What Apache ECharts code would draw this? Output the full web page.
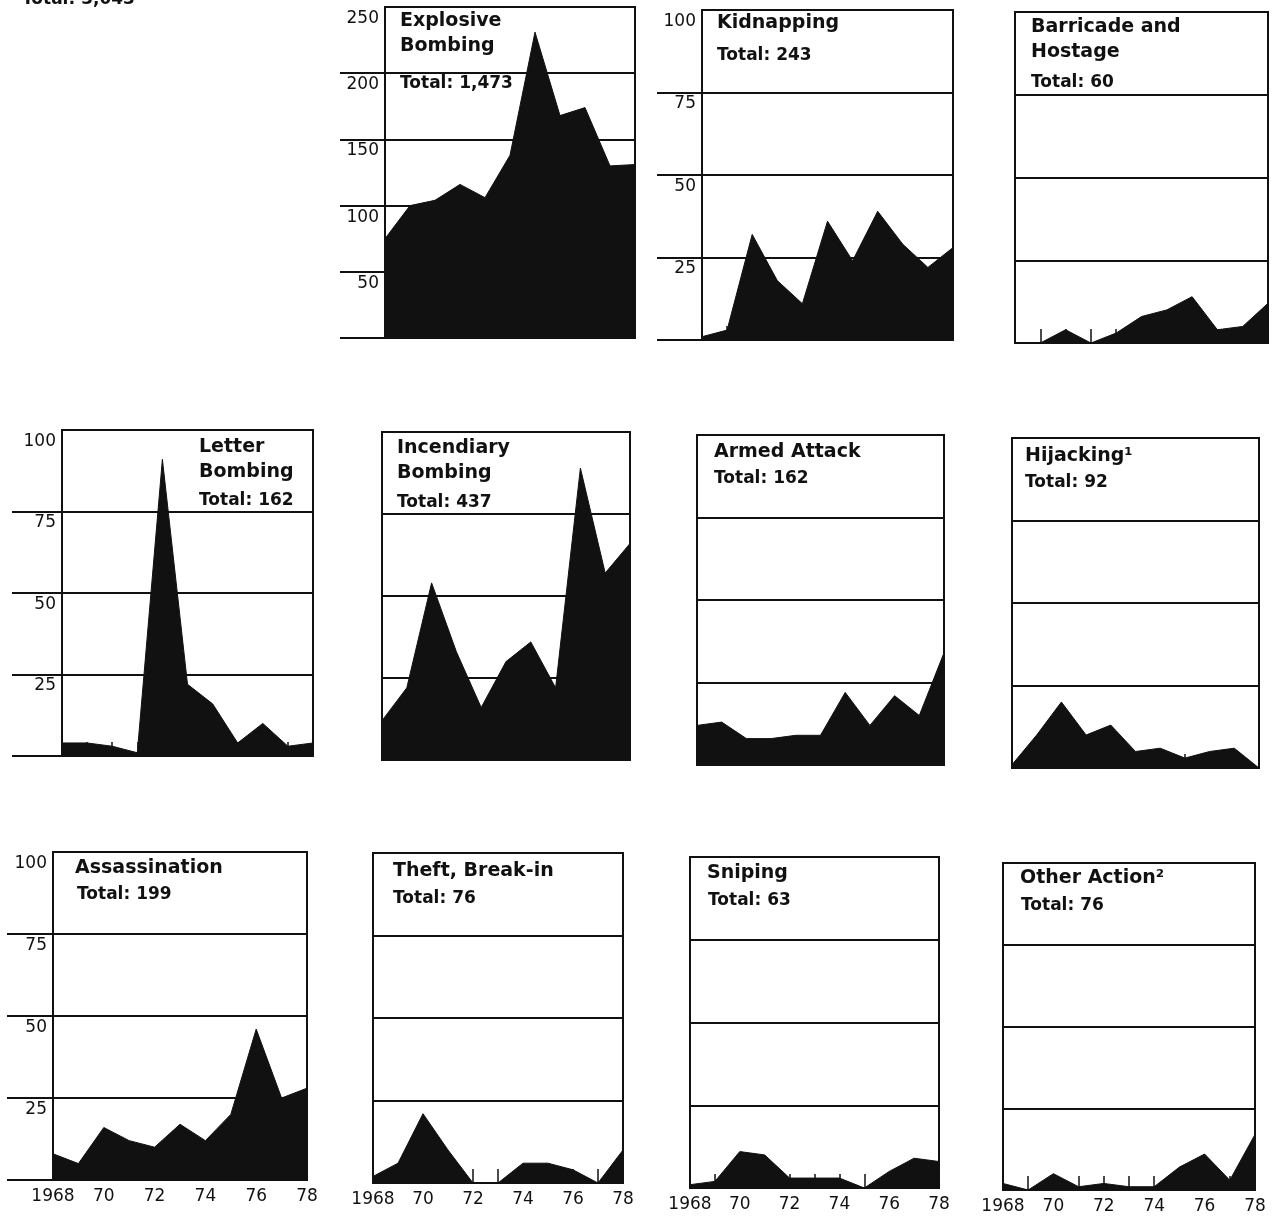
<!DOCTYPE html>
<html>
<head>
<meta charset="utf-8">
<script src="https://cdn.jsdelivr.net/npm/echarts@6/dist/echarts.min.js"></script>
<style>
html,body{margin:0;padding:0;background:#fff;}
#c{width:1280px;height:1216px;}
</style>
</head>
<body>
<div id="c"></div>
<script>
// ---- data ----
const years = ['1968','1969','1970','1971','1972','1973','1974','1975','1976','1977','1978'];
const explosiveBombing  = [75,100,104,116,106,138,231,168,174,130,131];
const kidnapping        = [1,3,32,18,11,36,24,39,29,22,28];
const barricadeHostage  = [0,0,4,0,3,8,10,14,4,5,12];
const letterBombing     = [4,4,3,1,91,22,16,4,10,3,4];
const incendiaryBombing = [12,22,54,33,16,30,36,22,89,57,66];
const armedAttack       = [12,13,8,8,9,9,22,12,21,15,34];
const hijacking         = [1,10,20,10,13,5,6,3,5,6,0];
const assassination     = [8,5,16,12,10,17,12,20,46,25,28];
const theftBreakIn      = [2,6,21,10,0,0,6,6,4,0,10];
const sniping           = [1,2,11,10,3,3,3,0,5,9,8];
const otherAction       = [2,0,5,1,2,1,1,7,11,3,17];

const panelNames  = ['Explosive\nBombing','Kidnapping','Barricade and\nHostage','Letter\nBombing','Incendiary\nBombing','Armed Attack','Hijacking\u00b9','Assassination','Theft, Break-in','Sniping','Other Action\u00b2'];
const panelTotals = ['Total: 1,473','Total: 243','Total: 60','Total: 162','Total: 437','Total: 162','Total: 92','Total: 199','Total: 76','Total: 63','Total: 76'];
const grandTotal  = 'Total: 3,043';
const seriesData  = [explosiveBombing,kidnapping,barricadeHostage,letterBombing,incendiaryBombing,armedAttack,hijacking,assassination,theftBreakIn,sniping,otherAction];
const axisMax  = [250,100,100,100,100,100,100,100,100,100,100];
const axisStep = [50,25,25,25,25,25,25,25,25,25,25];

// ---- layout (pixel boxes; styles only) ----
const layout = [
  {box:[385,7,635,338],   ext:340, yl:true,  xl:false, t:[400,21,400,84]},
  {box:[702,10,953,340],  ext:657, yl:true,  xl:false, t:[717,23,717,56]},
  {box:[1015,12,1268,343],ext:null,yl:false, xl:false, t:[1031,27,1031,83]},
  {box:[62,430,313,756],  ext:12,  yl:true,  xl:false, t:[199,447,199,501]},
  {box:[382,432,630,760], ext:null,yl:false, xl:false, t:[397,448,397,503]},
  {box:[697,435,944,765], ext:null,yl:false, xl:false, t:[714,452,714,479]},
  {box:[1012,438,1259,768],ext:null,yl:false,xl:false, t:[1025,456,1025,483]},
  {box:[53,852,307,1180], ext:7,   yl:true,  xl:true,  t:[75,868,77,895]},
  {box:[373,853,623,1183],ext:null,yl:false, xl:true,  t:[393,871,393,899]},
  {box:[690,857,939,1188],ext:null,yl:false, xl:true,  t:[707,873,708,901]},
  {box:[1003,863,1255,1190],ext:null,yl:false,xl:true, t:[1020,878,1021,906]}
];

const FONT = 'DejaVu Sans';
const INK = '#111';
const grids = [], xAxes = [], yAxes = [], series = [], titles = [];

titles.push({left:22, top:-10, padding:0, text:grandTotal,
  textStyle:{fontFamily:FONT, fontWeight:'bold', fontSize:17, lineHeight:20, color:INK}});

layout.forEach((p, i) => {
  const [l, t, r, b] = p.box;
  const max = axisMax[i], step = axisStep[i];
  if (p.ext != null) {
    const gi = grids.length;
    grids.push({left:p.ext, top:t, width:l - p.ext, height:b - t, show:false, containLabel:false, outerBoundsMode:'none'});
    xAxes.push({gridIndex:gi, type:'value', show:false});
    const cols = [];
    for (let v = 0; v <= max; v += step) cols.push(v === max ? 'rgba(0,0,0,0)' : INK);
    yAxes.push({gridIndex:gi, type:'value', min:0, max:max, interval:step,
      axisLine:{show:false}, axisTick:{show:false}, axisLabel:{show:false},
      splitLine:{show:true, lineStyle:{color:cols, width:2}}});
  }
  const gi = grids.length;
  grids.push({left:l, top:t, width:r - l, height:b - t, show:true, borderColor:INK, borderWidth:2,
    backgroundColor:'rgba(0,0,0,0)', containLabel:false, outerBoundsMode:'none'});
  xAxes.push({gridIndex:gi, type:'category', data:years, boundaryGap:false,
    axisLine:{show:false},
    axisTick:{show:true, inside:true, length:14, interval:0, lineStyle:{color:INK, width:1.5}},
    axisLabel:{show:p.xl, interval:1, margin:8, fontFamily:FONT, fontSize:17, color:INK,
      formatter:(v, idx) => idx === 0 ? v : v.slice(2)},
    splitLine:{show:false}});
  yAxes.push({gridIndex:gi, type:'value', min:0, max:max, interval:step,
    axisLine:{show:false}, axisTick:{show:false},
    axisLabel:{show:p.yl, margin:6, verticalAlign:'top', padding:[3,0,0,0],
      fontFamily:FONT, fontSize:17, color:INK,
      formatter:v => v === 0 ? '' : String(v)},
    splitLine:{show:true, lineStyle:{color:INK, width:2}}});
  series.push({type:'line', xAxisIndex:gi, yAxisIndex:gi, data:seriesData[i],
    symbol:'none', silent:true, animation:false,
    lineStyle:{color:INK, width:1}, areaStyle:{color:INK, opacity:1}});
  titles.push({left:p.t[0], top:p.t[1] - 12.5, padding:0, text:panelNames[i],
    textStyle:{fontFamily:FONT, fontWeight:'bold', fontSize:19, lineHeight:25, color:INK}});
  titles.push({left:p.t[2], top:p.t[3] - 10, padding:0, text:panelTotals[i],
    textStyle:{fontFamily:FONT, fontWeight:'bold', fontSize:17, lineHeight:20, color:INK}});
});

const chart = echarts.init(document.getElementById('c'), null, {renderer:'canvas'});
chart.setOption({
  animation:false,
  backgroundColor:'#fff',
  title:titles,
  grid:grids,
  xAxis:xAxes,
  yAxis:yAxes,
  series:series
});
</script>
</body>
</html>
